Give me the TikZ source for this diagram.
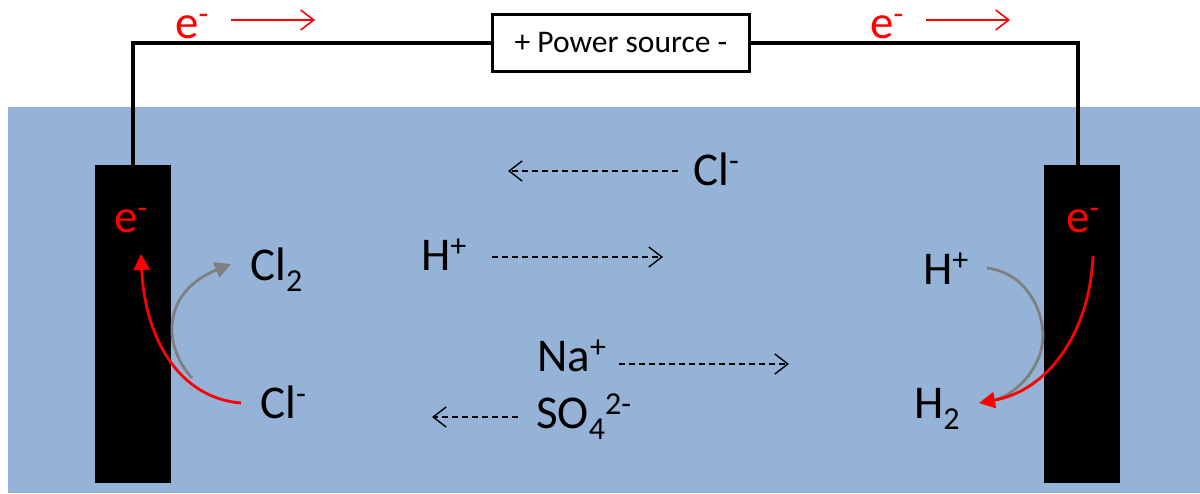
\documentclass[tikz,border=0pt]{standalone}
\usepackage{fontspec}
\setmainfont{Carlito}
\usetikzlibrary{arrows.meta}
\definecolor{water}{HTML}{95B3D7}
\definecolor{grayarc}{HTML}{7F7F7F}
\newcommand{\supr}[1]{\raisebox{14pt}{\fontsize{32}{32}\selectfont #1}}
\newcommand{\subr}[1]{\raisebox{-11pt}{\fontsize{32}{32}\selectfont #1}}
\tikzset{
  x=1pt,y=-1pt,
  label text/.style={anchor=base west,inner sep=0pt,font=\fontsize{47}{47}\selectfont},
  electron/.style={label text,text=red},
  electrode/.style={fill=black,draw=none},
  wire/.style={line width=3.3pt,black},
  flow/.style={line width=1.3pt,dash pattern=on 6pt off 4pt,-{Straight Barb[length=13pt,width=20pt,line width=1.4pt]}},
  current/.style={line width=1.6pt,red,-{Straight Barb[length=13pt,width=20pt,line width=1.6pt]}},
  redarc/.style={line width=2.8pt,red,-{Triangle[length=16pt,width=16pt]}},
  grayline/.style={line width=2.8pt,grayarc},
}
\begin{document}
\begin{tikzpicture}
\useasboundingbox (0,0) rectangle (1200,493);
\fill[water] (8,107) rectangle (1200,493);
\node[electrode,minimum width=76pt,minimum height=318pt,inner sep=0pt] (anode) at (133,324) {};
\node[electrode,minimum width=76pt,minimum height=318pt,inner sep=0pt] (cathode) at (1082,324) {};
\node[draw=black,line width=2.9pt,fill=white,minimum width=257pt,minimum height=57pt,inner sep=0pt,font=\fontsize{31.5}{31.5}\selectfont] (source) at (621,43) {+ Power source -};
\coordinate (anodeTop) at (133,165);
\coordinate (cathodeTop) at (1078,165);
\draw[wire] (anodeTop) |- (source.west);
\draw[wire] (cathodeTop) |- (source.east);
% texts
\node[electron] (eTL) at (175,38) {e\supr{-}};
\node[electron] (eTR) at (870,38) {e\supr{-}};
\node[electron] (eL) at (114,232) {e\supr{-}};
\node[electron] (eR) at (1066,232) {e\supr{-}};
\node[label text] (clTop) at (693,185) {Cl\supr{-}};
\node[label text] (hMid) at (421,270) {H\supr{+}};
\node[label text] (cl2) at (250,280) {Cl\subr{2}};
\node[label text] (clLeft) at (260,418) {Cl\supr{-}};
\node[label text] (hRight) at (923,284) {H\supr{+}};
\node[label text] (h2) at (914,418) {H\subr{2}};
\node[label text] (na) at (537,371) {Na\supr{+}};
\node[label text] (so4) at (536,428) {SO\subr{4}\supr{2-}};
% free ends
\coordinate (rA) at (231,20); \coordinate (rB) at (315,20);
\coordinate (rC) at (926,20); \coordinate (rD) at (1010,20);
\coordinate (d1a) at (678,171); \coordinate (d1b) at (508,171);
\coordinate (d2a) at (492,257); \coordinate (d2b) at (663,257);
\coordinate (d3a) at (619,364); \coordinate (d3b) at (789,364);
\coordinate (d4a) at (518,417); \coordinate (d4b) at (432,417);
\draw[current] (rA) -- (rB);
\draw[current] (rC) -- (rD);
\draw[flow] (d1a) -- (d1b);
\draw[flow] (d2a) -- (d2b);
\draw[flow] (d3a) -- (d3b);
\draw[flow] (d4a) -- (d4b);
% arcs
\coordinate (gLs) at (192,378); \coordinate (gLe) at (231,264);
\draw[grayline,-{Triangle[length=16pt,width=16pt]}] (gLs) .. controls (162,345) and (162,292) .. (gLe);
\coordinate (gRs) at (987,268); \coordinate (gRe) at (995,400);
\draw[grayline] (gRs) .. controls (1030,274) and (1043,315) .. (1043,335) .. controls (1043,365) and (1020,392) .. (gRe);
\coordinate (cLs) at (241,403); \coordinate (cLe) at (141,254);
\draw[redarc] (cLs) .. controls (180,398) and (145,340) .. (cLe);
\coordinate (cRs) at (1093,256); \coordinate (cRe) at (979,403);
\draw[redarc] (cRs) .. controls (1090,330) and (1050,390) .. (cRe);
\end{tikzpicture}
\end{document}
